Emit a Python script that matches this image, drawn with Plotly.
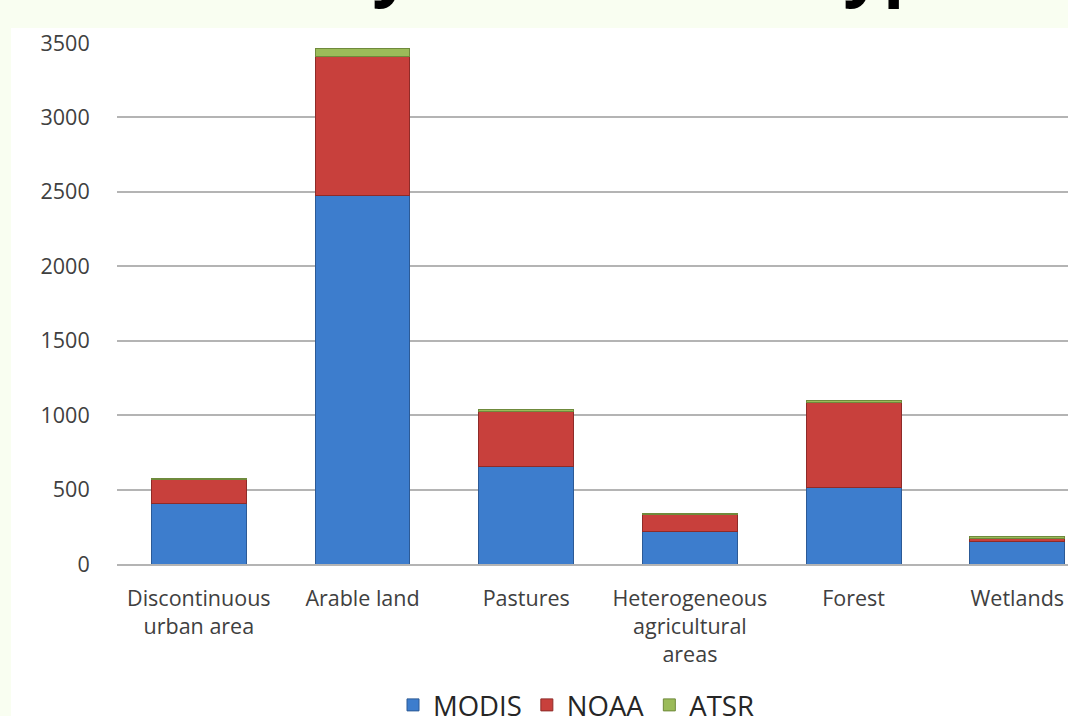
import plotly.graph_objects as go

# Land cover classes on the category axis
categories = [
    "Discontinuous<br>urban area",
    "Arable land",
    "Pastures",
    "Heterogeneous<br>agricultural<br>areas",
    "Forest",
    "Wetlands",
]

# Detections per sensor, stacked per land cover class
modis = [405, 2475, 655, 217, 512, 150]
noaa = [163, 935, 372, 117, 571, 20]
atsr = [8, 50, 12, 6, 13, 13]

y_ticks = [0, 500, 1000, 1500, 2000, 2500, 3000, 3500]

series = [
    ("MODIS", modis, "#3D7DCD", "#2C5A96"),
    ("NOAA", noaa, "#C8403C", "#8E2B28"),
    ("ATSR", atsr, "#9BBB59", "#6F8A3C"),
]

fig = go.Figure()
for name, values, fill, edge in series:
    fig.add_trace(
        go.Bar(
            name=name,
            x=categories,
            y=values,
            marker=dict(color=fill, line=dict(color=edge, width=1)),
        )
    )

W, H = 1068, 716
ML, MR, MT, MB = 117, 0, 43, 152
plot_w = W - ML - MR
plot_h = H - MT - MB

text_col = "#404040"
grid_col = "#B4B4B4"
font_family = "Open Sans"

fig.update_layout(
    width=W,
    height=H,
    autosize=False,
    margin=dict(l=ML, r=MR, t=MT, b=MB, pad=0, autoexpand=False),
    barmode="stack",
    bargap=0.42,
    paper_bgcolor="#F9FEF1",
    plot_bgcolor="#FFFFFF",
    font=dict(family=font_family, color=text_col, size=21),
    showlegend=True,
    legend=dict(
        orientation="h",
        x=(576 - ML) / plot_w,
        xanchor="center",
        y=(MT + plot_h - 705) / plot_h,
        yanchor="middle",
        font=dict(size=27.5, color="#262626"),
        bgcolor="rgba(0,0,0,0)",
        traceorder="normal",
        itemclick=False,
    ),
    xaxis=dict(
        type="category",
        range=[-0.5, 5.31],
        automargin=False,
        showgrid=False,
        showline=True,
        linecolor=grid_col,
        linewidth=2,
        ticks="outside",
        ticklen=14,
        tickcolor="rgba(0,0,0,0)",
        tickfont=dict(size=21.5, color=text_col),
        fixedrange=True,
    ),
    yaxis=dict(
        range=[0, 3500],
        automargin=False,
        tickvals=y_ticks,
        ticktext=[str(v) for v in y_ticks],
        showgrid=True,
        gridcolor=grid_col,
        gridwidth=2,
        zeroline=False,
        showline=False,
        ticks="outside",
        ticklen=22,
        tickcolor="rgba(0,0,0,0)",
        tickfont=dict(size=21.5, color=text_col),
        fixedrange=True,
    ),
    shapes=[
        # white chart panel behind the plot area, axis labels and legend
        dict(
            type="rect",
            xref="paper",
            yref="paper",
            x0=(11 - ML) / plot_w,
            x1=1.05,
            y0=-(MB + 20) / plot_h,
            y1=(MT + plot_h - 28) / plot_h,
            fillcolor="#FFFFFF",
            line=dict(width=0),
            layer="below",
        )
    ],
    annotations=[
        # slide heading above the chart panel
        dict(
            text="<b>Fires by land cover type</b>",
            xref="paper",
            yref="paper",
            x=(140 - ML) / plot_w,
            xanchor="left",
            y=1,
            yanchor="bottom",
            yshift=28,
            showarrow=False,
            font=dict(family=font_family, size=70, color="#000000"),
        )
    ],
)

fig.write_html("out.html")
